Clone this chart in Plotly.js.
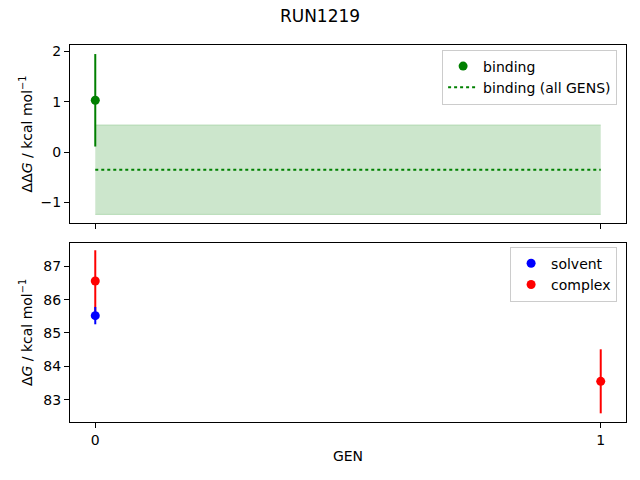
<!DOCTYPE html>
<html>
<head>
<meta charset="utf-8">
<script src="https://cdn.plot.ly/plotly-3.0.1.min.js"></script>
<style>
  body { margin: 0; }
  #chart { width: 640px; height: 480px; }
</style>
</head>
<body>
<div id="chart"></div>
<script>
// values
const gens = [0, 1];
const genLabels = ['0', '1'];

const bindingGen = [0];
const bindingVal = [1.03];
const bindingErr = [0.92];

// binding estimate over all GENS (dotted line + shaded band)
const allGensVal = -0.35;
const allGensErr = 0.89;

const solventGen = [0];
const solventVal = [85.52];
const solventErr = [0.26];

const complexGen = [0, 1];
const complexVal = [86.56, 83.55];
const complexErr = [0.92, 0.96];

const FONT = 'DejaVu Sans, Liberation Sans, sans-serif';
const green = 'rgb(0,128,0)';
const band = 'rgba(0,128,0,0.2)';

const traces = [
  // shaded band, lower edge then upper edge
  {
    x: gens, y: gens.map(() => allGensVal - allGensErr),
    mode: 'lines', line: {color: band, width: 1},
    showlegend: false, hoverinfo: 'skip', xaxis: 'x', yaxis: 'y'
  },
  {
    x: gens, y: gens.map(() => allGensVal + allGensErr),
    mode: 'lines', line: {color: band, width: 1},
    fill: 'tonexty', fillcolor: band,
    showlegend: false, hoverinfo: 'skip', xaxis: 'x', yaxis: 'y'
  },
  {
    x: bindingGen, y: bindingVal, name: 'binding',
    mode: 'markers', marker: {color: green, size: 9},
    error_y: {type: 'data', array: bindingErr, color: green, thickness: 2, width: 0},
    xaxis: 'x', yaxis: 'y', legend: 'legend', legendrank: 1
  },
  {
    x: gens, y: gens.map(() => allGensVal), name: 'binding (all GENS)',
    mode: 'lines', line: {color: green, width: 2, dash: 'dot'},
    xaxis: 'x', yaxis: 'y', legend: 'legend', legendrank: 2
  },
  // bottom panel
  {
    x: complexGen, y: complexVal, name: 'complex',
    mode: 'markers', marker: {color: 'red', size: 9},
    error_y: {type: 'data', array: complexErr, color: 'red', thickness: 2, width: 0},
    xaxis: 'x2', yaxis: 'y2', legend: 'legend2', legendrank: 2
  },
  {
    x: solventGen, y: solventVal, name: 'solvent',
    mode: 'markers', marker: {color: 'blue', size: 9},
    error_y: {type: 'data', array: solventErr, color: 'blue', thickness: 2, width: 0},
    xaxis: 'x2', yaxis: 'y2', legend: 'legend2', legendrank: 1
  }
];

const axisStyle = {
  showline: true, mirror: true, linecolor: 'black', linewidth: 1,
  ticks: 'outside', ticklen: 5, tickwidth: 1, tickcolor: 'black',
  showgrid: false, zeroline: false,
  tickfont: {family: FONT, size: 14, color: 'black'}
};

const legendStyle = {
  bgcolor: 'rgba(255,255,255,0.8)', bordercolor: '#cccccc', borderwidth: 1,
  font: {family: FONT, size: 14, color: 'black'},
  xanchor: 'right', yanchor: 'top', traceorder: 'normal',
  itemwidth: 30, tracegroupgap: 0
};

const layout = {
  width: 640, height: 480,
  margin: {l: 70, r: 14, t: 45, b: 58},
  paper_bgcolor: 'white', plot_bgcolor: 'white',
  font: {family: FONT, color: 'black'},
  title: {
    text: 'RUN1219', font: {family: FONT, size: 17, color: 'black'},
    x: 0.5, xref: 'container', y: 1 - 16 / 480, yref: 'container', yanchor: 'middle'
  },
  xaxis: Object.assign({}, axisStyle, {
    domain: [0, 1], range: [-0.05, 1.05], anchor: 'y',
    tickvals: gens, ticktext: genLabels, showticklabels: false
  }),
  yaxis: Object.assign({}, axisStyle, {
    domain: [0.528, 1], range: [-1.41, 2.13], anchor: 'x',
    tickvals: [-1, 0, 1, 2],
    title: {text: 'ΔΔ<i>G</i> / kcal mol<sup>−1</sup>', font: {family: FONT, size: 14, color: 'black'}}
  }),
  xaxis2: Object.assign({}, axisStyle, {
    domain: [0, 1], range: [-0.05, 1.05], anchor: 'y2', matches: 'x',
    tickvals: gens, ticktext: genLabels,
    title: {text: 'GEN', font: {family: FONT, size: 14, color: 'black'}, standoff: 4}
  }),
  yaxis2: Object.assign({}, axisStyle, {
    domain: [0, 0.475], range: [82.33, 87.7], anchor: 'x2',
    tickvals: [83, 84, 85, 86, 87],
    title: {text: 'Δ<i>G</i> / kcal mol<sup>−1</sup>', font: {family: FONT, size: 14, color: 'black'}}
  }),
  legend: Object.assign({}, legendStyle, {x: 0.984, y: 0.988}),
  legend2: Object.assign({}, legendStyle, {x: 0.984, y: 0.465})
};

Plotly.newPlot('chart', traces, layout, {staticPlot: true});
</script>
</body>
</html>
